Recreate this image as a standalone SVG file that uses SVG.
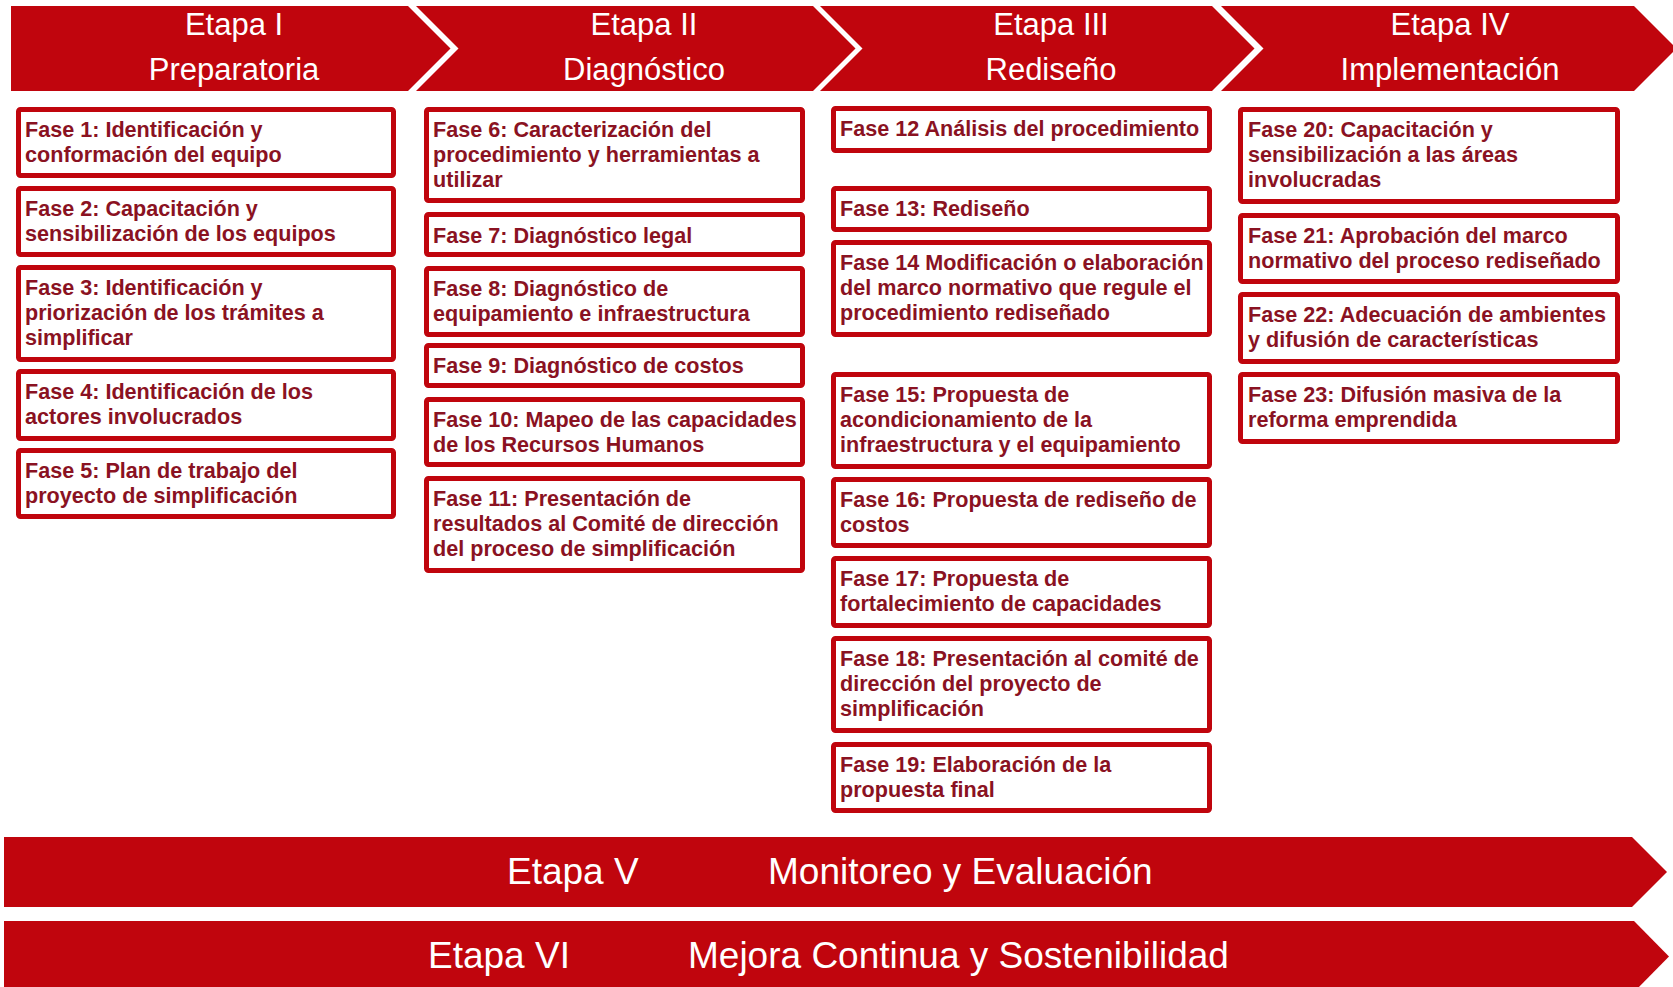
<svg xmlns="http://www.w3.org/2000/svg" width="1673" height="987" viewBox="0 0 1673 987">
<style>
.band{fill:#C0050D;}
.ht{font-family:"Liberation Sans",Arial,sans-serif;font-size:31px;fill:#FFFFFF;text-anchor:middle;}
.bt{font-family:"Liberation Sans",Arial,sans-serif;font-size:37px;fill:#FFFFFF;}
.box{fill:#FFFFFF;stroke:#C0050D;stroke-width:5;}
.ft{font-family:"Liberation Sans",Arial,sans-serif;font-size:21.6px;font-weight:bold;fill:#8A1222;}
</style>
<rect width="1673" height="987" fill="#FFFFFF"/>
<g id="etapa1">
<polygon class="band" points="11,6 408,6 450.5,48.5 408,91 11,91"/>
<text class="ht" x="234" y="35">Etapa I</text>
<text class="ht" x="234" y="80">Preparatoria</text>
</g>
<g id="etapa2">
<polygon class="band" points="416,6 813,6 855.5,48.5 813,91 416,91 458.5,48.5"/>
<text class="ht" x="644" y="35">Etapa II</text>
<text class="ht" x="644" y="80">Diagnóstico</text>
</g>
<g id="etapa3">
<polygon class="band" points="820,6 1212,6 1254.5,48.5 1212,91 820,91 862.5,48.5"/>
<text class="ht" x="1051" y="35">Etapa III</text>
<text class="ht" x="1051" y="80">Rediseño</text>
</g>
<g id="etapa4">
<polygon class="band" points="1221,6 1634,6 1676.5,48.5 1634,91 1221,91 1263.5,48.5"/>
<text class="ht" x="1450" y="35">Etapa IV</text>
<text class="ht" x="1450" y="80">Implementación</text>
</g>

<g id="fase1"><rect class="box" x="18.5" y="109.5" width="375" height="66" rx="2"/>
<text class="ft" x="25" y="137">Fase 1: Identificación y</text><text class="ft" x="25" y="162">conformación del equipo</text></g>
<g id="fase2"><rect class="box" x="18.5" y="188.5" width="375" height="66" rx="2"/>
<text class="ft" x="25" y="216">Fase 2: Capacitación y</text><text class="ft" x="25" y="241">sensibilización de los equipos</text></g>
<g id="fase3"><rect class="box" x="18.5" y="267.5" width="375" height="92" rx="2"/>
<text class="ft" x="25" y="295">Fase 3: Identificación y</text><text class="ft" x="25" y="320">priorización de los trámites a</text><text class="ft" x="25" y="345">simplificar</text></g>
<g id="fase4"><rect class="box" x="18.5" y="371.5" width="375" height="67" rx="2"/>
<text class="ft" x="25" y="399">Fase 4: Identificación de los</text><text class="ft" x="25" y="424">actores involucrados</text></g>
<g id="fase5"><rect class="box" x="18.5" y="450.5" width="375" height="66" rx="2"/>
<text class="ft" x="25" y="478">Fase 5: Plan de trabajo del</text><text class="ft" x="25" y="503">proyecto de simplificación</text></g>

<g id="fase6"><rect class="box" x="426.5" y="109.5" width="376" height="91" rx="2"/>
<text class="ft" x="433" y="137">Fase 6: Caracterización del</text><text class="ft" x="433" y="162">procedimiento y herramientas a</text><text class="ft" x="433" y="187">utilizar</text></g>
<g id="fase7"><rect class="box" x="426.5" y="214.5" width="376" height="40" rx="2"/>
<text class="ft" x="433" y="242.5">Fase 7: Diagnóstico legal</text></g>
<g id="fase8"><rect class="box" x="426.5" y="268.5" width="376" height="66" rx="2"/>
<text class="ft" x="433" y="296">Fase 8: Diagnóstico de</text><text class="ft" x="433" y="321">equipamiento e infraestructura</text></g>
<g id="fase9"><rect class="box" x="426.5" y="345.5" width="376" height="40" rx="2"/>
<text class="ft" x="433" y="373">Fase 9: Diagnóstico de costos</text></g>
<g id="fase10"><rect class="box" x="426.5" y="399.5" width="376" height="65" rx="2"/>
<text class="ft" x="433" y="427">Fase 10: Mapeo de las capacidades</text><text class="ft" x="433" y="452">de los Recursos Humanos</text></g>
<g id="fase11"><rect class="box" x="426.5" y="478.5" width="376" height="92" rx="2"/>
<text class="ft" x="433" y="506">Fase 11: Presentación de</text><text class="ft" x="433" y="531">resultados al Comité de dirección</text><text class="ft" x="433" y="556">del proceso de simplificación</text></g>

<g id="fase12"><rect class="box" x="833.5" y="108.5" width="376" height="42" rx="2"/>
<text class="ft" x="840" y="136">Fase 12 Análisis del procedimiento</text></g>
<g id="fase13"><rect class="box" x="833.5" y="188.5" width="376" height="41" rx="2"/>
<text class="ft" x="840" y="216">Fase 13: Rediseño</text></g>
<g id="fase14"><rect class="box" x="833.5" y="242.5" width="376" height="92" rx="2"/>
<text class="ft" x="840" y="270">Fase 14 Modificación o elaboración</text><text class="ft" x="840" y="295">del marco normativo que regule el</text><text class="ft" x="840" y="320">procedimiento rediseñado</text></g>
<g id="fase15"><rect class="box" x="833.5" y="374.5" width="376" height="92" rx="2"/>
<text class="ft" x="840" y="402">Fase 15: Propuesta de</text><text class="ft" x="840" y="427">acondicionamiento de la</text><text class="ft" x="840" y="452">infraestructura y el equipamiento</text></g>
<g id="fase16"><rect class="box" x="833.5" y="479.5" width="376" height="66" rx="2"/>
<text class="ft" x="840" y="507">Fase 16: Propuesta de rediseño de</text><text class="ft" x="840" y="532">costos</text></g>
<g id="fase17"><rect class="box" x="833.5" y="558.5" width="376" height="67" rx="2"/>
<text class="ft" x="840" y="586">Fase 17: Propuesta de</text><text class="ft" x="840" y="611">fortalecimiento de capacidades</text></g>
<g id="fase18"><rect class="box" x="833.5" y="638.5" width="376" height="92" rx="2"/>
<text class="ft" x="840" y="666">Fase 18: Presentación al comité de</text><text class="ft" x="840" y="691">dirección del proyecto de</text><text class="ft" x="840" y="716">simplificación</text></g>
<g id="fase19"><rect class="box" x="833.5" y="744.5" width="376" height="66" rx="2"/>
<text class="ft" x="840" y="772">Fase 19: Elaboración de la</text><text class="ft" x="840" y="797">propuesta final</text></g>

<g id="fase20"><rect class="box" x="1240.5" y="109.5" width="377" height="92" rx="2"/>
<text class="ft" x="1248" y="137">Fase 20: Capacitación y</text><text class="ft" x="1248" y="162">sensibilización a las áreas</text><text class="ft" x="1248" y="187">involucradas</text></g>
<g id="fase21"><rect class="box" x="1240.5" y="215.5" width="377" height="66" rx="2"/>
<text class="ft" x="1248" y="243">Fase 21: Aprobación del marco</text><text class="ft" x="1248" y="268">normativo del proceso rediseñado</text></g>
<g id="fase22"><rect class="box" x="1240.5" y="294.5" width="377" height="67" rx="2"/>
<text class="ft" x="1248" y="322">Fase 22: Adecuación de ambientes</text><text class="ft" x="1248" y="347">y difusión de características</text></g>
<g id="fase23"><rect class="box" x="1240.5" y="374.5" width="377" height="67" rx="2"/>
<text class="ft" x="1248" y="402">Fase 23: Difusión masiva de la</text><text class="ft" x="1248" y="427">reforma emprendida</text></g>

<g id="etapa5">
<polygon class="band" points="4,837 1632,837 1667,872 1632,907 4,907"/>
<text class="bt" x="507" y="884">Etapa V</text>
<text class="bt" x="768" y="884">Monitoreo y Evaluación</text>
</g>
<g id="etapa6">
<polygon class="band" points="4,921 1634,921 1669,956.5 1634,992 4,992"/>
<text class="bt" x="428" y="968">Etapa VI</text>
<text class="bt" x="688" y="968">Mejora Continua y Sostenibilidad</text>
</g>
<g id="connectors"></g>
</svg>
